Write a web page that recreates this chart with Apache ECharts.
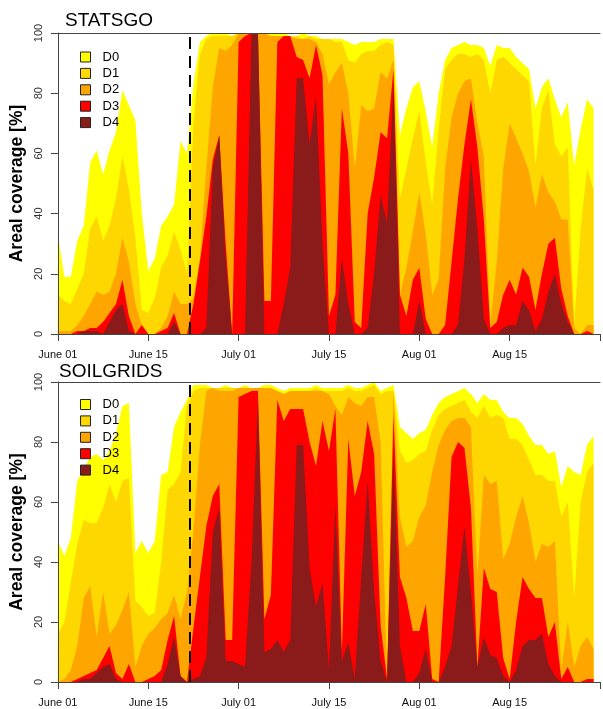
<!DOCTYPE html>
<html><head><meta charset="utf-8">
<script src="https://cdn.jsdelivr.net/npm/echarts@6/dist/echarts.min.js"></script>
<style>html,body{margin:0;padding:0;background:#fff}#c{width:603px;height:709px}</style>
</head><body><div id="c"></div>
<script>
const tickLabels = ['June 01','June 15','July 01','July 15','Aug 01','Aug 15'];
const levels = ['D0','D1','D2','D3','D4'];
const panelTitles = ['STATSGO','SOILGRIDS'];
const onsetDay = 20.5;

// STATSGO areal coverage [%] per day (index 0 = June 01)
const statsgoD0 = [33,19,19,31,36,57,61,53,61,67, 81,76,71,40,21,25,36,39,43,64, 60,83,97,99,100,100,100,99,100,100, 100,100,99,100,100,100,99,99,100,99, 99,98,98,98,98,97,96,97,97,97, 98,98,98,66,75,82,84,74,62,80, 91,95,96,97,96,96,95,89,96,95, 95,92,90,88,75,82,85,78,72,77, 56,68,78,75];
const statsgoD1 = [13,11,10,15,20,35,39,31,36,45, 59,48,32,8,7,12,22,26,34,28, 20,70,93,98,99,99,99,99,100,100, 100,100,99,99,99,99,98,99,98,99, 98,98,98,97,97,91,90,93,94,94, 96,97,96,45,55,65,74,57,43,68, 88,91,93,93,92,93,91,80,91,92, 90,88,86,84,56,75,81,63,59,62, 3,35,55,48];
const statsgoD2 = [1,1,1,3,6,10,14,13,14,20, 32,24,10,3,0,0,2,6,14,10, 10,12,25,55,82,95,94,96,100,100, 100,100,100,99,99,99,99,98,98,98, 97,93,83,87,90,80,55,76,74,75, 87,85,91,13,22,34,47,33,13,18, 55,72,80,84,85,70,59,3,24,55, 70,65,60,54,42,53,47,44,38,38, 2,0,3,3];
const statsgoD3 = [0,0,0,1,1,2,2,4,7,10, 18,6,0,3,0,0,1,2,7,0, 0,10,24,39,58,66,30,0,97,99, 100,100,11,11,97,99,99,92,91,85, 96,86,6,13,75,60,4,2,40,52, 67,65,88,13,6,18,22,5,0,0, 3,24,45,63,78,62,38,2,4,13, 18,13,22,19,8,20,30,32,15,6, 0,0,1,0];
const statsgoD4 = [0,0,0,0,1,1,1,0,4,8, 10,1,0,0,0,0,0,0,4,0, 0,0,0,2,55,66,25,0,0,0, 100,100,0,0,0,10,22,85,85,63, 79,30,0,0,25,10,0,0,2,20, 46,37,83,0,0,0,11,0,0,0, 0,0,3,25,58,35,5,0,0,2, 3,3,11,8,1,5,14,20,10,4, 0,0,0,0];

// SOILGRIDS areal coverage [%]
const soilgridsD0 = [47,42,48,67,71,75,76,74,77,83, 92,93,43,47,43,47,69,70,85,90, 94,99,99,99,98,98,99,98,98,99, 98,98,99,99,98,97,98,98,98,98, 99,98,98,98,98,99,98,98,99,100, 97,98,99,85,83,81,83,84,89,93, 95,96,97,98,96,93,96,94,94,90, 88,88,86,82,79,79,76,77,65,72, 70,69,79,82];
const soilgridsD1 = [16,20,33,46,54,53,53,58,66,60, 67,68,27,25,22,23,40,64,66,70, 92,97,98,98,98,98,98,98,98,98, 98,98,98,98,97,96,97,97,97,97, 98,97,97,97,97,98,97,97,98,99, 96,97,97,77,73,74,76,77,84,89, 91,92,93,94,90,88,92,88,89,88, 81,81,79,74,69,69,67,67,55,60, 28,60,70,73];
const soilgridsD2 = [0,1,4,12,28,32,15,30,16,19, 24,30,5,12,16,18,21,23,29,21, 30,50,79,97,98,97,97,97,98,98, 98,98,98,98,97,96,97,97,97,97, 97,97,96,92,89,95,93,92,95,95, 80,1,97,55,45,47,55,59,70,79, 84,87,88,88,85,35,69,66,67,41, 46,55,62,53,40,46,45,47,4,20, 5,12,15,11];
const soilgridsD3 = [0,0,0,1,2,3,4,8,12,3, 1,6,0,0,1,2,4,14,22,2, 0,18,35,52,62,66,14,14,95,96, 97,97,21,29,94,87,91,91,91,80, 72,87,77,91,10,81,62,70,87,76, 19,1,89,35,28,17,17,26,1,0, 35,75,80,78,58,5,38,31,30,8, 1,20,35,31,28,28,15,20,1,5, 0,0,1,1];
const soilgridsD4 = [0,0,0,0,1,1,3,5,6,1, 0,0,0,0,0,0,0,6,15,2, 0,1,2,8,50,58,7,7,6,5, 40,94,10,11,14,10,14,79,79,38, 25,33,4,59,7,13,1,35,67,30, 7,0,77,12,0,0,3,11,0,0, 5,12,32,52,30,5,15,9,8,2, 0,4,12,14,14,16,6,2,0,0, 0,0,0,0];

const panels = [
  [statsgoD0, statsgoD1, statsgoD2, statsgoD3, statsgoD4],
  [soilgridsD0, soilgridsD1, soilgridsD2, soilgridsD3, soilgridsD4]
];

const FONT = 'Liberation Sans, Arial, sans-serif';
const COLORS = ['#FFFF00','#FFD700','#FFA500','#FF0000','#8B1A1A'];
const AXIS = '#444';
const grids = [
  {left: 57, top: 33, width: 552, height: 301},
  {left: 56, top: 382, width: 552, height: 300}
];
const titlePos = [{left: 65, top: 11}, {left: 59, top: 362}];
const legendTop = [50.5, 398];

const option = {
  animation: false,
  backgroundColor: '#fff',
  title: panelTitles.map((t, k) => ({
    text: t, left: titlePos[k].left, top: titlePos[k].top, padding: 0,
    textStyle: {fontFamily: FONT, fontSize: 19, fontWeight: 'normal', color: '#000'}
  })),
  grid: grids.map(g => Object.assign({containLabel: false}, g)),
  legend: legendTop.map(t => ({
    orient: 'vertical', left: 80, top: t, padding: 0, itemWidth: 10, itemHeight: 10, itemGap: 3.4,
    icon: 'rect', selectedMode: false, data: levels,
    itemStyle: {borderColor: '#222', borderWidth: 1},
    textStyle: {fontFamily: FONT, fontSize: 13, color: '#000', padding: [0, 0, 0, 7]}
  })),
  xAxis: [],
  yAxis: [],
  series: []
};

panels.forEach((panel, k) => {
  option.xAxis.push({
    gridIndex: k, type: 'value', min: 0, max: 84, interval: 14, position: 'bottom', z: 10,
    axisLine: {show: true, onZero: false, lineStyle: {color: AXIS, width: 1}},
    axisTick: {show: true, length: 7, lineStyle: {color: AXIS, width: 1}},
    axisLabel: {margin: 15, fontFamily: FONT, fontSize: 11, color: '#111',
      formatter: v => tickLabels[Math.round(v / 14)] || ''},
    splitLine: {show: false}
  });
  option.xAxis.push({
    gridIndex: k, type: 'value', min: 0, max: 84, position: 'top', z: 10,
    axisLine: {show: true, onZero: false, lineStyle: {color: AXIS, width: 1}},
    axisTick: {show: false}, axisLabel: {show: false}, splitLine: {show: false}
  });
  option.yAxis.push({
    gridIndex: k, type: 'value', min: 0, max: 100, interval: 20, z: 10,
    name: 'Areal coverage [%]', nameLocation: 'middle', nameGap: 23, nameRotate: 90,
    nameTextStyle: {fontFamily: FONT, fontSize: 17.5, fontWeight: 'bold', color: '#000'},
    axisLine: {show: true, lineStyle: {color: AXIS, width: 1}},
    axisTick: {show: true, length: 7, lineStyle: {color: AXIS, width: 1}},
    axisLabel: {rotate: 90, margin: 13, fontFamily: FONT, fontSize: 11, color: '#333'},
    splitLine: {show: false}
  });
  panel.forEach((arr, j) => {
    const s = {
      name: levels[j], type: 'line', xAxisIndex: 2 * k, yAxisIndex: k,
      data: arr.map((v, i) => [i, v]),
      symbol: 'none', silent: true, color: COLORS[j],
      lineStyle: {width: 0, color: COLORS[j]},
      areaStyle: {color: COLORS[j], opacity: 1}
    };
    if (j === levels.length - 1) {
      s.markLine = {
        silent: true, symbol: ['none', 'none'], label: {show: false},
        lineStyle: {color: '#000', width: 2, type: [12, 7]},
        data: [{xAxis: onsetDay}]
      };
    }
    option.series.push(s);
  });
});

const chart = echarts.init(document.getElementById('c'), null, {renderer: 'canvas'});
chart.setOption(option);
</script></body></html>
